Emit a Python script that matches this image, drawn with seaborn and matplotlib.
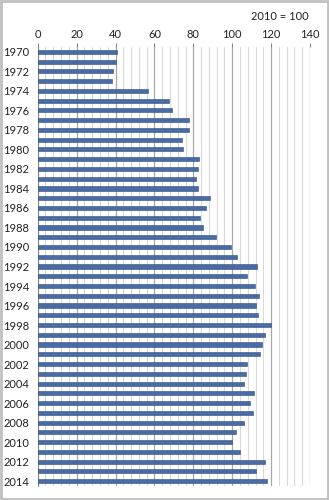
import matplotlib
matplotlib.use("Agg")
import matplotlib.pyplot as plt
from matplotlib.ticker import MultipleLocator
from matplotlib.patches import Rectangle
import seaborn as sns
import pandas as pd

years = list(range(1970, 2015))
values = [40.8, 40.1, 38.7, 38.4, 56.5, 67.5, 68.9, 77.8, 77.8, 74.4,
          74.5, 82.9, 82.6, 81.6, 82.6, 88.4, 86.4, 83.3, 85.0, 91.5,
          99.4, 102.6, 112.6, 107.8, 111.9, 113.9, 112.2, 113.3, 119.8, 116.9,
          115.1, 114.3, 107.6, 106.9, 105.9, 111.2, 109.2, 110.7, 105.9, 102.0,
          100.0, 103.8, 116.9, 112.1, 117.9]
xticks = [0, 20, 40, 60, 80, 100, 120, 140]
note = "2010 = 100"

df = pd.DataFrame({"year": [str(y) for y in years], "value": values})

sns.set_style("white")
plt.rcParams['font.family'] = ['Lato', 'DejaVu Sans']

fig = plt.figure(figsize=(3.29, 5.0), dpi=100)
ax = fig.add_axes([37.7/329, 1 - 486/500, (310 - 37.7)/329, (486 - 47)/500])

sns.barplot(data=df, x="value", y="year", orient="h", color="#3A67B0",
            width=0.42, ax=ax, zorder=3, edgecolor="#2C4F8A", linewidth=0.4)

ax.set_xlim(0, 140)
ax.set_ylim(len(years) - 0.5, -0.5)
ax.xaxis.tick_top()
ax.set_xticks(xticks)
ax.set_xticklabels([str(t) for t in xticks], fontsize=8, color="#222222")
ax.xaxis.set_minor_locator(MultipleLocator(4))
ax.grid(axis="x", which="minor", color="#DADADA", linewidth=0.8, zorder=0)
ax.grid(axis="x", which="major", color="#A8A8A8", linewidth=0.9, zorder=0)
ax.set_axisbelow(True)
ax.tick_params(axis="x", which="major", length=3, color="#888888", pad=2)
ax.tick_params(axis="x", which="minor", length=0)

ax.set_yticks(range(0, len(years), 2))
ax.set_yticklabels([str(y) for y in years[::2]], fontsize=8, color="#222222")
ax.set_yticks([i - 0.5 for i in range(len(years) + 1)], minor=True)
ax.tick_params(axis="y", which="major", length=0, pad=6)
ax.tick_params(axis="y", which="minor", length=4, color="#888888")

for s in ["right", "bottom"]:
    ax.spines[s].set_visible(False)
ax.spines["top"].set_visible(False)
ax.spines["left"].set_color("#888888")
ax.spines["left"].set_linewidth(0.8)
ax.set_xlabel("")
ax.set_ylabel("")

fig.text(309/329, 1 - 17/500, note, ha="right", va="center", fontsize=8, color="#222222")

fig.patches.append(Rectangle((0.003, 0.002), 0.994, 0.996, transform=fig.transFigure,
                             fill=False, edgecolor="#C0C0C0", linewidth=2))

fig.savefig("out.png", dpi=100)
